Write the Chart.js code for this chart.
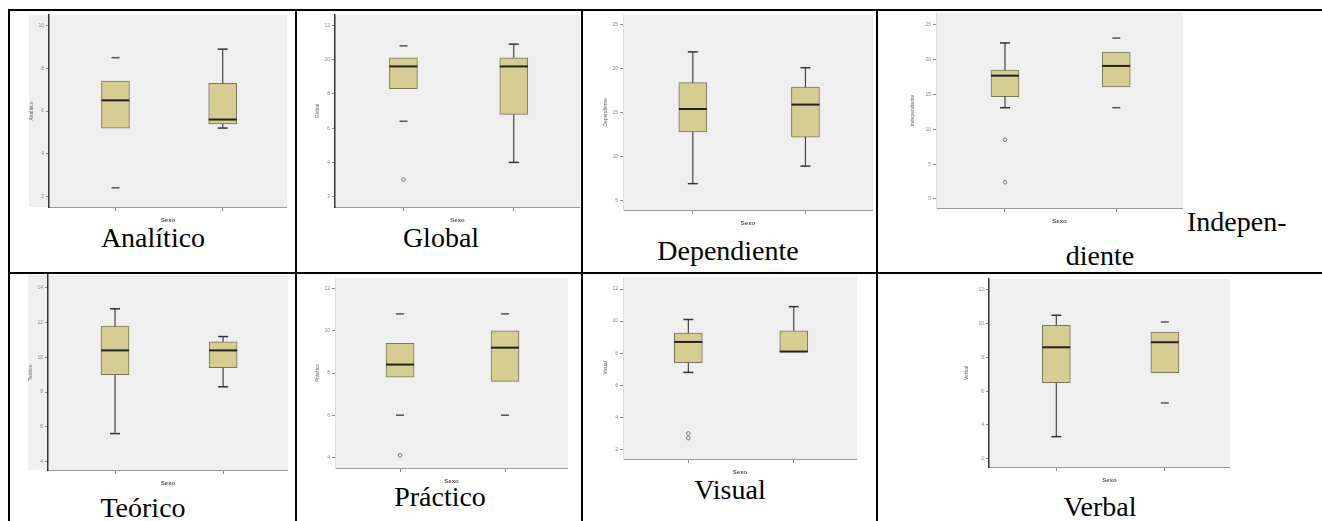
<!DOCTYPE html>
<html>
<head>
<meta charset="utf-8">
<script src="https://cdn.jsdelivr.net/npm/chart.js@4.4.0/dist/chart.umd.min.js"></script>
<style>
  body { margin: 0; background: #fff; width: 1322px; height: 521px; overflow: hidden; position: relative; }
  .ln { position: absolute; background: #000; }
  canvas { position: absolute; }
  .t { position: absolute; font-family: 'Liberation Serif', 'Times New Roman', serif; font-size: 28px; line-height: 28px; color: #000; white-space: nowrap; }
  .c { transform: translateX(-50%); }
</style>
</head>
<body>
<div class="ln" style="left:8px;top:9px;width:1314px;height:2px"></div>
<div class="ln" style="left:8px;top:272px;width:1314px;height:2px"></div>
<div class="ln" style="left:8px;top:9px;width:2px;height:512px"></div>
<div class="ln" style="left:295px;top:9px;width:2px;height:512px"></div>
<div class="ln" style="left:581px;top:9px;width:2px;height:512px"></div>
<div class="ln" style="left:876px;top:9px;width:2px;height:512px"></div>

<div class="t c" style="left:153px;top:224px">Analítico</div>
<div class="t c" style="left:441px;top:224px">Global</div>
<div class="t c" style="left:728px;top:237px">Dependiente</div>
<div class="t" style="left:1187px;top:208px">Indepen-</div>
<div class="t c" style="left:1100px;top:242px">diente</div>
<div class="t c" style="left:143px;top:494px">Teórico</div>
<div class="t c" style="left:440px;top:483px">Práctico</div>
<div class="t c" style="left:730px;top:476px">Visual</div>
<div class="t c" style="left:1100px;top:493px">Verbal</div>

<script>
const titulos = ['Analítico', 'Global', 'Dependiente', 'Independiente', 'Teórico', 'Práctico', 'Visual', 'Verbal'];
const grupos = [1, 2];
const yTicks = [
  [2, 4, 6, 8, 10],
  [2, 4, 6, 8, 10, 12],
  [5, 10, 15, 20, 25],
  [0, 5, 10, 15, 20, 25],
  [4, 6, 8, 10, 12, 14],
  [4, 6, 8, 10, 12],
  [2, 4, 6, 8, 10, 12],
  [2, 4, 6, 8, 10, 12]
];
const yMin = [1.5, 1.4, 3.9, -1.3, 3.5, 3.5, 1.4, 1.5];
const yMax = [10.5, 12.6, 26.1, 26.7, 14.75, 12.5, 12.75, 12.65];

const q1 = [[5.2, 5.4], [8.3, 6.8], [12.8, 12.2], [14.7, 16.1], [9.0, 9.4], [7.8, 7.6], [7.4, 8.1], [6.5, 7.1]];
const q3 = [[7.4, 7.3], [10.1, 10.1], [18.4, 17.9], [18.5, 21.1], [11.8, 10.9], [9.4, 10.0], [9.25, 9.4], [9.9, 9.5]];
const mediana = [[6.5, 5.6], [9.6, 9.6], [15.4, 15.9], [17.7, 19.1], [10.4, 10.4], [8.4, 9.2], [8.7, 8.1], [8.6, 8.9]];
const bigoteInf = [[null, 5.2], [null, 4.0], [6.9, 8.9], [13.1, null], [5.6, 8.3], [null, null], [6.8, null], [3.3, null]];
const bigoteSup = [[null, 8.9], [null, 10.9], [21.9, 20.1], [22.4, null], [12.8, 11.2], [null, null], [10.1, 10.9], [10.5, null]];
const atipicos = [
  [[8.5, 2.4], []],
  [[10.8, 6.4], []],
  [[], []],
  [[], [23.1, 13.1]],
  [[], []],
  [[10.8, 6.0], [10.8, 6.0]],
  [[], []],
  [[], [10.1, 5.3]]
];
const extremos = [
  [[], []],
  [[3.0], []],
  [[], []],
  [[8.5, 2.4], []],
  [[], []],
  [[4.1], []],
  [[2.7, 3.0], []],
  [[], []]
];

// colocación de cada gráfico en la tabla
const areaIzq = [49, 335, 623, 936, 48, 335, 623, 989];
const areaDer = [287, 580, 873, 1183, 288, 568, 857, 1230];
const areaSup = [15, 15, 15, 13, 275, 278, 277, 279];
const areaInf = [207, 207, 210, 208, 470, 468, 459, 467];
const anchoEje = [20, 20, 20, 26, 20, 20, 20, 25];
const fondoExtra = [26, 0, 0, 0, 23, 0, 0, 0];
const ejeOscuro = [true, true, false, false, true, false, false, true];

const fondo = {
  id: 'fondo',
  beforeDraw(chart, args, opts) {
    const { ctx, chartArea: a } = chart;
    ctx.save();
    ctx.fillStyle = '#efefef';
    ctx.fillRect(a.left - opts.extra, a.top, a.right - a.left + opts.extra, a.bottom - a.top);
    ctx.restore();
  }
};

titulos.forEach((titulo, i) => {
  const cv = document.createElement('canvas');
  const L = areaIzq[i] - anchoEje[i];
  const T = areaSup[i] - 8;
  cv.width = areaDer[i] - L;
  cv.height = areaInf[i] + 19 - T;
  cv.style.left = L + 'px';
  cv.style.top = T + 'px';
  document.body.appendChild(cv);

  const cajas = grupos.map((g, k) => ({ x: g, y: [q1[i][k], q3[i][k]] }));
  const medianas = grupos.map((g, k) => ({ x: g, y: mediana[i][k] }));
  const bigotes = [];
  const topes = [];
  grupos.forEach((g, k) => {
    if (bigoteSup[i][k] !== null) {
      bigotes.push({ x: g, y: q3[i][k] }, { x: g, y: bigoteSup[i][k] }, { x: g, y: null });
      topes.push({ x: g, y: bigoteSup[i][k] });
    }
    if (bigoteInf[i][k] !== null) {
      bigotes.push({ x: g, y: q1[i][k] }, { x: g, y: bigoteInf[i][k] }, { x: g, y: null });
      topes.push({ x: g, y: bigoteInf[i][k] });
    }
  });
  const guiones = [];
  const circulos = [];
  grupos.forEach((g, k) => {
    atipicos[i][k].forEach(v => guiones.push({ x: g, y: v }));
    extremos[i][k].forEach(v => circulos.push({ x: g, y: v }));
  });

  new Chart(cv.getContext('2d'), {
    type: 'bar',
    data: {
      datasets: [
        {
          data: cajas,
          backgroundColor: '#d5cd92',
          borderColor: '#7a745c',
          borderWidth: 1,
          borderSkipped: false,
          barThickness: 28,
          order: 5
        },
        {
          type: 'line',
          data: bigotes,
          borderColor: '#444',
          borderWidth: 1.2,
          pointRadius: 0,
          spanGaps: false,
          order: 4
        },
        {
          type: 'scatter',
          data: topes,
          pointStyle: 'line',
          pointRadius: 5,
          borderColor: '#333',
          borderWidth: 1.5,
          order: 3
        },
        {
          type: 'scatter',
          data: guiones,
          pointStyle: 'line',
          pointRadius: 4,
          borderColor: '#555',
          borderWidth: 1.5,
          order: 3
        },
        {
          type: 'scatter',
          data: circulos,
          pointStyle: 'circle',
          pointRadius: 1.8,
          backgroundColor: 'rgba(0,0,0,0)',
          borderColor: '#777',
          borderWidth: 1,
          order: 3
        },
        {
          type: 'scatter',
          data: medianas,
          pointStyle: 'line',
          pointRadius: 14,
          borderColor: '#222',
          borderWidth: 2,
          order: 1
        }
      ]
    },
    options: {
      responsive: false,
      animation: false,
      layout: { autoPadding: false, padding: { top: 8, left: 0, right: 0, bottom: 0 } },
      plugins: {
        legend: { display: false },
        tooltip: { enabled: false },
        fondo: { extra: fondoExtra[i] }
      },
      scales: {
        x: {
          type: 'linear',
          offset: false,
          min: 0.38,
          max: 2.6,
          afterBuildTicks: s => { s.ticks = grupos.map(v => ({ value: v })); },
          afterFit: s => { s.height = 19; },
          ticks: { callback: () => '', padding: 0, font: { size: 5 } },
          grid: { offset: false, drawOnChartArea: false, color: '#888', tickLength: 4 },
          border: { color: '#999' },
          title: {
            display: true,
            text: 'Sexo',
            color: '#555',
            font: { size: 6, weight: 'bold', family: 'Liberation Sans' },
            padding: { top: 0, bottom: 2 }
          }
        },
        y: {
          min: yMin[i],
          max: yMax[i],
          afterBuildTicks: s => { s.ticks = yTicks[i].map(v => ({ value: v })); },
          afterFit: s => { s.width = anchoEje[i]; },
          ticks: { color: '#888', padding: 2, font: { size: 5, family: 'Liberation Sans' } },
          grid: { drawOnChartArea: false, color: '#888', tickLength: 3 },
          border: { color: ejeOscuro[i] ? '#333' : '#ddd', width: ejeOscuro[i] ? 1.5 : 1 },
          title: {
            display: true,
            text: titulo,
            color: '#666',
            font: { size: 5, family: 'Liberation Sans' },
            padding: { top: 0, bottom: 0 }
          }
        }
      }
    },
    plugins: [fondo]
  });
});
</script>
</body>
</html>
